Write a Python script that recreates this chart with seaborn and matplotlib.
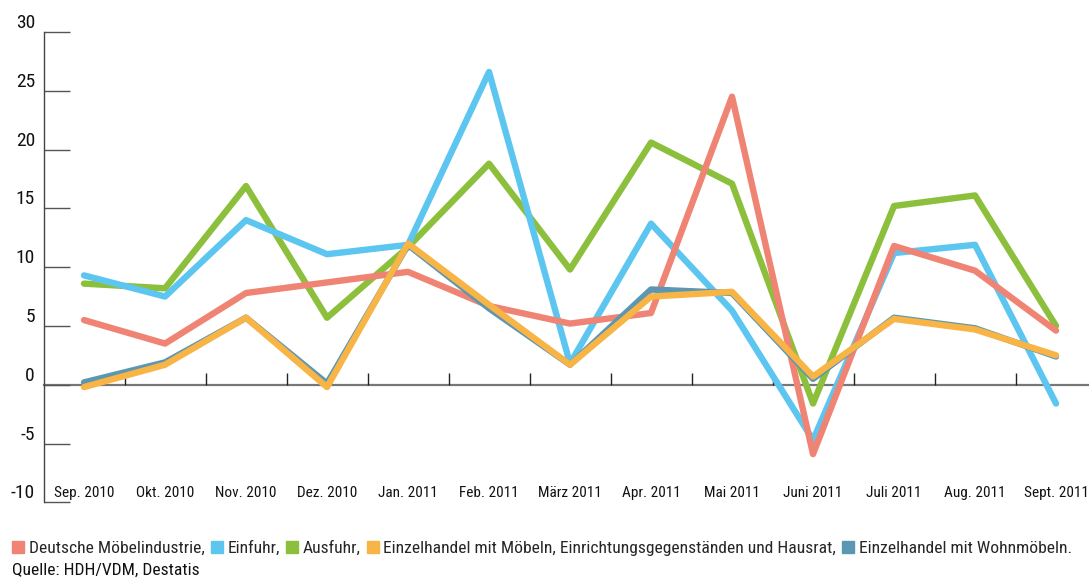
import numpy as np
import pandas as pd
import seaborn as sns
import matplotlib
matplotlib.use("Agg")
import matplotlib.pyplot as plt
from matplotlib import font_manager, transforms
from matplotlib.lines import Line2D

months = ["Sep. 2010", "Okt. 2010", "Nov. 2010", "Dez. 2010", "Jan. 2011", "Feb. 2011",
          "März 2011", "Apr. 2011", "Mai 2011", "Juni 2011", "Juli 2011", "Aug. 2011", "Sept. 2011"]

moebelindustrie = [5.5, 3.5, 7.8, 8.7, 9.6, 6.7, 5.2, 6.1, 24.5, -5.9, 11.8, 9.7, 4.6]
einfuhr = [9.3, 7.5, 14.0, 11.1, 11.9, 26.6, 1.8, 13.7, 6.3, -4.7, 11.2, 11.9, -1.6]
ausfuhr = [8.6, 8.2, 16.9, 5.7, 11.7, 18.8, 9.8, 20.6, 17.1, -1.6, 15.2, 16.1, 5.0]
einzelhandel = [-0.2, 1.7, 5.7, -0.2, 12.0, 6.8, 1.7, 7.5, 7.9, 0.7, 5.6, 4.7, 2.5]
wohnmoebel = [0.2, 1.9, 5.7, 0.1, 11.9, 6.5, 1.7, 8.1, 7.8, 0.5, 5.7, 4.8, 2.4]

series_names = ["Deutsche Möbelindustrie", "Einfuhr", "Ausfuhr",
                "Einzelhandel mit Möbeln, Einrichtungsgegenständen und Hausrat",
                "Einzelhandel mit Wohnmöbeln"]
series_values = [moebelindustrie, einfuhr, ausfuhr, einzelhandel, wohnmoebel]
colors = ["#F08474", "#5CC6F0", "#8CC03C", "#F8B445", "#5B97B3"]
legend_labels = ["Deutsche Möbelindustrie,", "Einfuhr,", "Ausfuhr,",
                 "Einzelhandel mit Möbeln, Einrichtungsgegenständen und Hausrat,",
                 "Einzelhandel mit Wohnmöbeln."]
yticks = [-10, -5, 0, 5, 10, 15, 20, 25, 30]
source = "Quelle: HDH/VDM, Destatis"

rows = []
for name, vals in zip(series_names, series_values):
    for i, v in enumerate(vals):
        rows.append({"idx": i, "value": v, "series": name})
df = pd.DataFrame(rows)

sns.set_theme(style="white")

# look for a condensed / narrow sans font
fp_cond = None
for f in font_manager.fontManager.ttflist:
    nm = f.name.lower()
    fn = f.fname.lower()
    if ("narrow" in nm or "condensed" in nm or "condensed" in fn or "narrow" in fn
            or str(f.stretch) in ("condensed", "semi-condensed", "extra-condensed")) \
            and "bold" not in fn and "italic" not in fn and "oblique" not in fn:
        if fp_cond is None or "liberation" in fn or ("roboto" in fn and "liberation" not in fp_cond.fname.lower()):
            fp_cond = f
if fp_cond is not None:
    fam = fp_cond.name
    plt.rcParams["font.family"] = [fam, "DejaVu Sans"]
    plt.rcParams["font.stretch"] = fp_cond.stretch
else:
    plt.rcParams["font.family"] = ["Liberation Sans", "DejaVu Sans"]
    fam = "Liberation Sans"

fig = plt.figure(figsize=(10.89, 5.83), dpi=100)
ax = fig.add_axes([44 / 1089, 1 - 502.3 / 583, (1089 - 44) / 1089, (502.3 - 32) / 583])

palette = dict(zip(series_names, colors))
draw_order = [series_names[i] for i in (2, 1, 0, 4, 3)]
sns.lineplot(data=df, x="idx", y="value", hue="series", hue_order=draw_order,
             palette=palette, linewidth=4.6, legend=False, sort=False, ax=ax,
             solid_capstyle="round", solid_joinstyle="round")

ax.set_xlim(-0.494, 12.407)
ax.set_ylim(-10, 30)
ax.set_xlabel("")
ax.set_ylabel("")

# y axis
ax.set_yticks(yticks)
ax.set_yticklabels([str(t) for t in yticks])
ax.tick_params(axis="y", direction="in", length=18.7, width=1.0, color="#555555",
               pad=6.5, labelsize=14, labelcolor="#111111", left=True)
off = transforms.ScaledTranslation(0, 11 / 100, fig.dpi_scale_trans)
for lab in ax.get_yticklabels():
    lab.set_transform(lab.get_transform() + off)

# x axis: labels at bottom inside, ticks on zero line (top spine moved to 0)
ax.set_xticks(range(len(months)))
ax.set_xticklabels(months)
ax.set_xticks([i + 0.5 for i in range(len(months) - 1)], minor=True)
ax.tick_params(axis="x", which="major", bottom=True, top=False, length=0,
               pad=-12, labelsize=11, labelcolor="#111111")
ax.tick_params(axis="x", which="minor", bottom=False, top=True, direction="out",
               length=8.6, width=1.0, color="#222222")

ax.spines["right"].set_visible(False)
ax.spines["bottom"].set_visible(False)
ax.spines["left"].set_color("#444444")
ax.spines["left"].set_linewidth(1.0)
ax.spines["top"].set_position(("data", 0))
ax.spines["top"].set_color("#777777")
ax.spines["top"].set_linewidth(1.6)
ax.spines["top"].set_zorder(0.5)
ax.grid(False)

handles = [Line2D([], [], marker="s", linestyle="none", markersize=8.5,
                  markerfacecolor=c, markeredgecolor=c) for c in colors]
fig.legend(handles, legend_labels, loc="center left", bbox_to_anchor=(12 / 1089, 1 - 548 / 583),
           ncol=5, frameon=False, fontsize=12.6, handlelength=0.7, handletextpad=0.25,
           columnspacing=0.35, borderpad=0, borderaxespad=0)
fig.text(12 / 1089, 1 - 570 / 583, source, fontsize=12.6, va="center", ha="left", color="#111111")

fig.savefig("out.png", dpi=100)
